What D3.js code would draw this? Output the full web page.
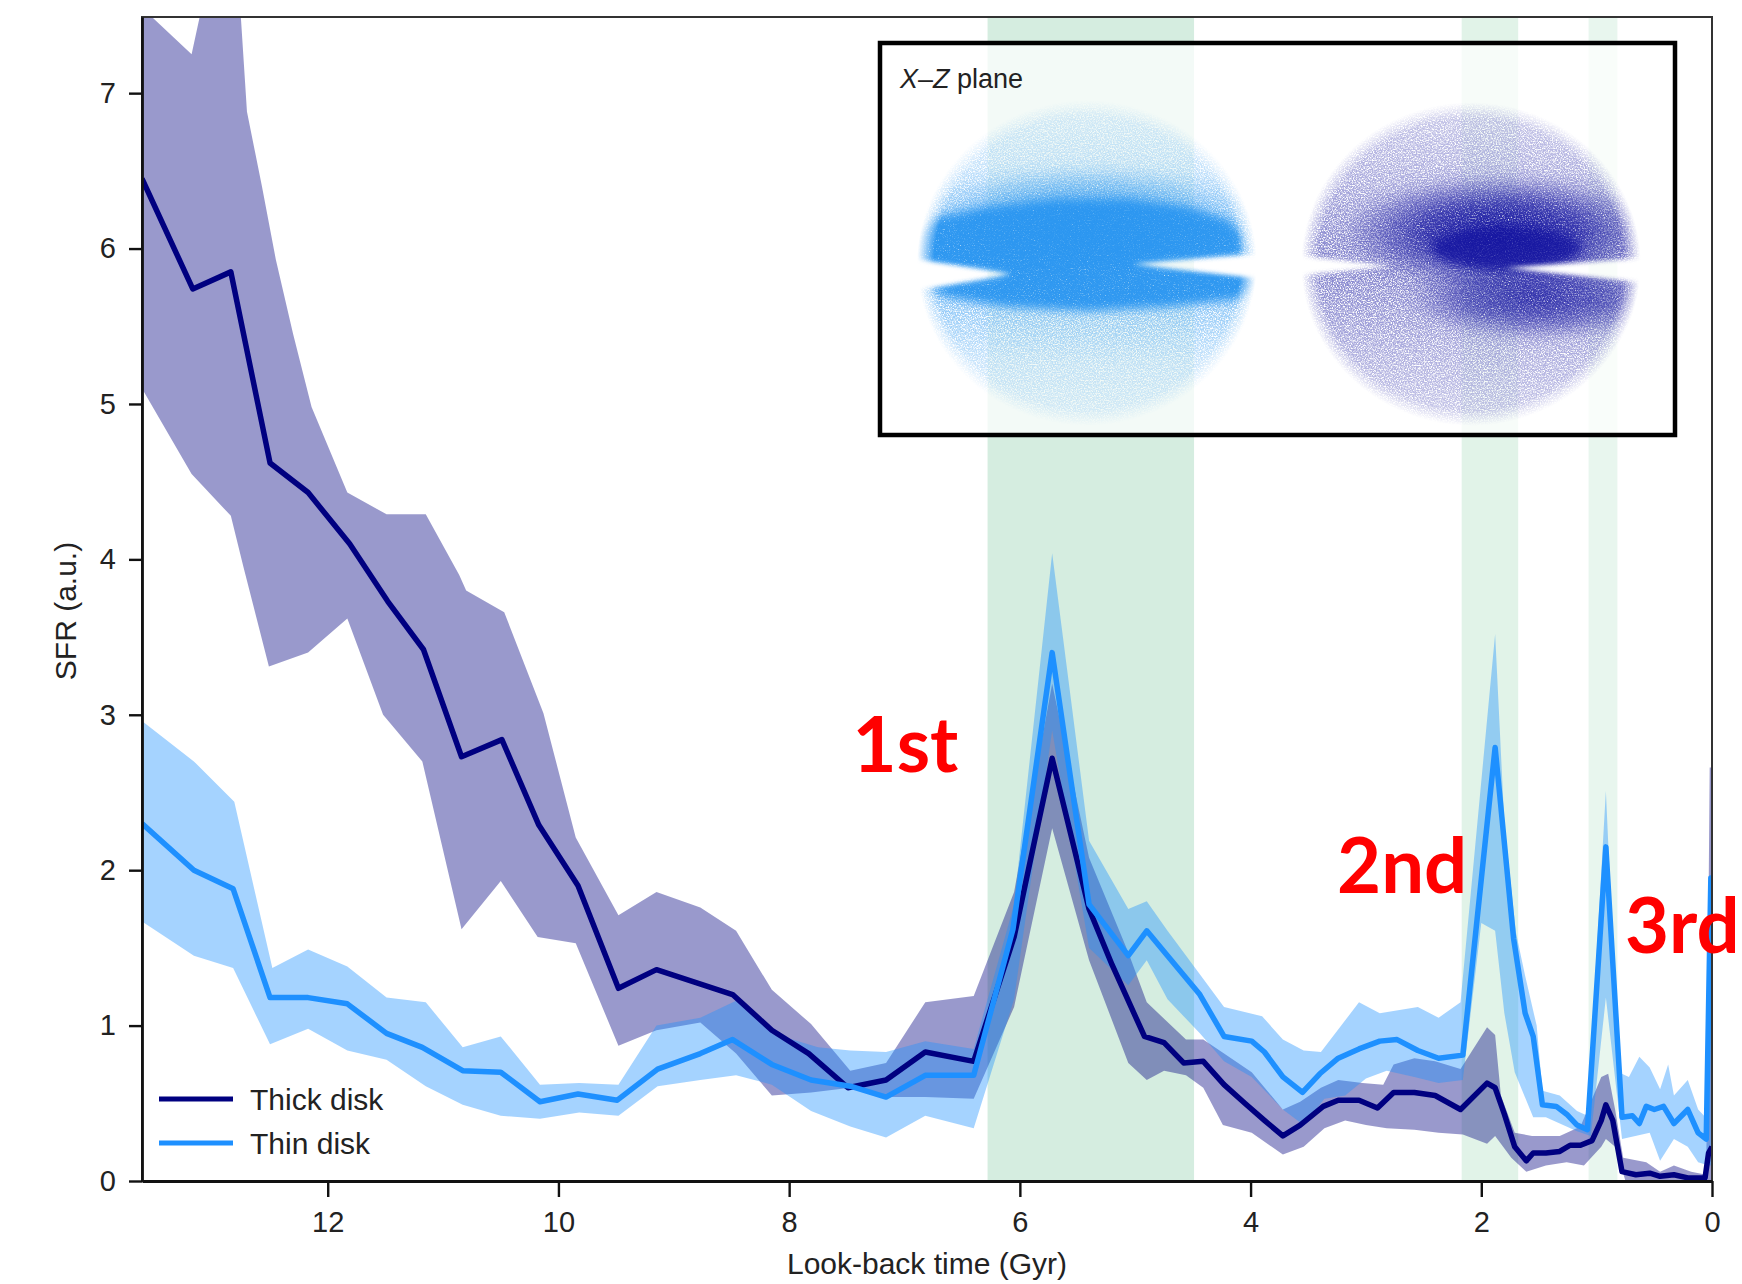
<!DOCTYPE html>
<html>
<head>
<meta charset="utf-8">
<script src="https://cdn.jsdelivr.net/npm/d3@7"></script>
<style>
  html, body { margin: 0; padding: 0; background: #fff; }
  svg { display: block; }
</style>
</head>
<body>
<div id="chart"></div>
<script>
// [look-back time (Gyr), SFR (a.u.)]
const thickMean = [[13.61,6.45],[13.17,5.74],[12.84,5.85],[12.50,4.62],[12.17,4.43],[11.81,4.10],[11.48,3.73],[11.17,3.42],[10.84,2.73],[10.49,2.84],[10.17,2.29],[9.83,1.90],[9.48,1.24],[9.15,1.36],[8.82,1.28],[8.49,1.20],[8.15,0.97],[7.83,0.82],[7.49,0.60],[7.16,0.65],[6.82,0.83],[6.40,0.77],[6.05,1.57],[5.72,2.72],[5.40,1.75],[5.20,1.39],[4.92,0.93],[4.75,0.89],[4.58,0.76],[4.41,0.77],[4.23,0.62],[4.05,0.50],[3.88,0.39],[3.72,0.29],[3.57,0.36],[3.37,0.48],[3.24,0.52],[3.06,0.52],[2.90,0.47],[2.76,0.57],[2.58,0.57],[2.40,0.55],[2.18,0.46],[1.95,0.63],[1.88,0.60],[1.80,0.43],[1.71,0.22],[1.61,0.13],[1.55,0.18],[1.44,0.18],[1.32,0.19],[1.23,0.23],[1.14,0.23],[1.04,0.26],[0.96,0.39],[0.92,0.49],[0.86,0.39],[0.78,0.06],[0.66,0.04],[0.54,0.05],[0.45,0.03],[0.33,0.04],[0.21,0.02],[0.06,0.02],[0.03,0.18],[0.00,0.22]];
const thickHi = [[13.61,7.55],[13.18,7.25],[13.02,7.8],[12.78,7.8],[12.70,6.88],[12.57,6.40],[12.45,5.93],[12.30,5.45],[12.14,4.98],[11.83,4.43],[11.49,4.29],[11.15,4.29],[10.86,3.90],[10.80,3.80],[10.47,3.66],[10.13,3.01],[9.85,2.21],[9.48,1.71],[9.15,1.86],[8.77,1.76],[8.46,1.61],[8.15,1.23],[7.81,1.01],[7.47,0.71],[7.16,0.76],[6.82,1.15],[6.40,1.19],[6.05,1.86],[5.72,3.20],[5.40,2.08],[5.06,1.47],[4.90,1.15],[4.56,0.91],[4.41,0.91],[4.23,0.82],[3.99,0.70],[3.72,0.46],[3.57,0.51],[3.39,0.60],[3.24,0.65],[3.03,0.63],[2.85,0.62],[2.76,0.75],[2.58,0.79],[2.40,0.77],[2.18,0.72],[1.95,0.99],[1.88,0.94],[1.83,0.55],[1.71,0.31],[1.56,0.29],[1.32,0.29],[1.14,0.35],[0.96,0.67],[0.90,0.69],[0.84,0.46],[0.77,0.15],[0.57,0.12],[0.45,0.06],[0.33,0.10],[0.18,0.06],[0.05,0.04],[0.02,2.66],[0.00,2.66]];
const thickLo = [[13.61,5.10],[13.18,4.55],[12.84,4.28],[12.73,3.95],[12.51,3.31],[12.17,3.40],[11.83,3.62],[11.52,3.00],[11.18,2.70],[10.84,1.62],[10.50,1.93],[10.18,1.57],[9.85,1.53],[9.48,0.87],[9.15,0.97],[8.77,1.02],[8.46,0.82],[8.15,0.55],[7.81,0.57],[7.47,0.60],[7.16,0.54],[6.82,0.54],[6.40,0.53],[6.05,1.12],[5.72,2.27],[5.40,1.42],[5.06,0.76],[4.90,0.65],[4.75,0.71],[4.56,0.68],[4.41,0.60],[4.24,0.36],[3.99,0.31],[3.72,0.17],[3.54,0.22],[3.36,0.34],[3.18,0.39],[3.00,0.36],[2.82,0.34],[2.58,0.33],[2.37,0.31],[2.16,0.30],[1.95,0.24],[1.88,0.29],[1.74,0.15],[1.61,0.06],[1.44,0.10],[1.26,0.12],[1.11,0.10],[0.96,0.22],[0.92,0.27],[0.84,0.22],[0.75,0.00],[0.00,0.00]];

const thinMean = [[13.61,2.30],[13.16,2.00],[12.82,1.88],[12.50,1.18],[12.17,1.18],[11.83,1.14],[11.49,0.95],[11.18,0.86],[10.83,0.71],[10.50,0.70],[10.16,0.51],[9.83,0.56],[9.49,0.52],[9.14,0.72],[8.77,0.82],[8.49,0.91],[8.15,0.75],[7.81,0.65],[7.47,0.61],[7.16,0.54],[6.82,0.68],[6.40,0.68],[6.06,1.62],[5.72,3.40],[5.40,1.78],[5.06,1.45],[4.90,1.61],[4.72,1.45],[4.44,1.20],[4.23,0.93],[3.99,0.90],[3.88,0.83],[3.72,0.67],[3.55,0.57],[3.40,0.69],[3.24,0.79],[3.06,0.85],[2.88,0.90],[2.73,0.91],[2.55,0.84],[2.37,0.79],[2.16,0.81],[1.88,2.79],[1.72,1.56],[1.62,1.08],[1.55,0.93],[1.47,0.49],[1.35,0.48],[1.26,0.43],[1.17,0.36],[1.08,0.33],[0.92,2.15],[0.78,0.41],[0.69,0.42],[0.63,0.37],[0.57,0.48],[0.50,0.46],[0.42,0.48],[0.33,0.37],[0.21,0.46],[0.12,0.31],[0.05,0.27],[0.01,1.95],[0.00,1.95]];
const thinHi = [[13.61,2.96],[13.16,2.70],[12.81,2.44],[12.48,1.37],[12.17,1.49],[11.83,1.38],[11.49,1.18],[11.15,1.15],[10.83,0.86],[10.50,0.93],[10.16,0.62],[9.82,0.63],[9.48,0.62],[9.15,1.00],[8.77,1.05],[8.46,1.16],[8.15,0.95],[7.75,0.86],[7.47,0.84],[7.16,0.83],[6.82,0.90],[6.40,0.85],[6.05,1.78],[5.72,4.04],[5.40,2.19],[5.06,1.75],[4.90,1.80],[4.72,1.61],[4.44,1.33],[4.23,1.12],[3.90,1.06],[3.72,0.91],[3.54,0.84],[3.39,0.83],[3.06,1.15],[2.88,1.08],[2.55,1.12],[2.37,1.05],[2.18,1.15],[1.88,3.52],[1.80,2.30],[1.70,1.60],[1.62,1.32],[1.52,1.00],[1.47,0.58],[1.32,0.55],[1.17,0.45],[1.08,0.42],[0.92,2.51],[0.81,0.70],[0.72,0.67],[0.63,0.80],[0.54,0.73],[0.45,0.59],[0.38,0.75],[0.33,0.55],[0.21,0.65],[0.12,0.46],[0.03,0.39],[0.01,2.00],[0.00,2.00]];
const thinLo = [[13.61,1.67],[13.16,1.45],[12.82,1.37],[12.50,0.88],[12.17,0.98],[11.83,0.84],[11.49,0.78],[11.15,0.61],[10.83,0.49],[10.50,0.42],[10.16,0.40],[9.82,0.44],[9.48,0.42],[9.14,0.61],[8.77,0.65],[8.46,0.68],[8.15,0.62],[7.81,0.45],[7.47,0.35],[7.16,0.28],[6.82,0.42],[6.40,0.34],[6.05,1.17],[5.72,2.90],[5.40,1.50],[5.06,1.26],[4.90,1.42],[4.72,1.17],[4.44,0.95],[4.23,0.77],[3.99,0.67],[3.72,0.46],[3.54,0.36],[3.36,0.53],[3.18,0.55],[3.00,0.66],[2.82,0.71],[2.58,0.67],[2.37,0.63],[2.16,0.65],[2.00,1.66],[1.88,1.61],[1.80,1.08],[1.71,0.70],[1.55,0.41],[1.44,0.41],[1.17,0.32],[1.05,0.29],[0.92,1.18],[0.78,0.27],[0.54,0.31],[0.45,0.13],[0.33,0.27],[0.21,0.22],[0.12,0.12],[0.03,0.10],[0.00,0.10]];

// starburst windows (Gyr) and their labels
const burstBands = [[6.28, 4.49], [2.17, 1.68], [1.07, 0.82]];
const burstLabels = ["1st", "2nd", "3rd"];

const xTicks = [12, 10, 8, 6, 4, 2, 0];
const yTicks = [0, 1, 2, 3, 4, 5, 6, 7];
const seriesNames = ["Thick disk", "Thin disk"];

const W = 1742, H = 1284;
const plot = {left: 142, right: 1712, top: 17, bottom: 1181};
const font = '"Liberation Sans", Arial, Helvetica, sans-serif';
const navy = "#000080", dodger = "#1e90ff";
const bandGreens = ["#d5ede0", "#e1f3e8", "#e8f6ee"];

const svg = d3.select("#chart").append("svg")
  .attr("width", W).attr("height", H)
  .attr("font-family", font);

const x = d3.scaleLinear().domain([13.61, 0]).range([plot.left, plot.right]);
const y = d3.scaleLinear().domain([0, 7.49]).range([plot.bottom, plot.top]);

const defs = svg.append("defs");
defs.append("clipPath").attr("id", "plotClip")
  .append("rect")
  .attr("x", plot.left).attr("y", plot.top)
  .attr("width", plot.right - plot.left).attr("height", plot.bottom - plot.top);

const body = svg.append("g").attr("clip-path", "url(#plotClip)");

// green windows
body.selectAll(".burst").data(burstBands).join("rect")
  .attr("class", "burst")
  .attr("x", d => x(d[0]))
  .attr("width", d => x(d[1]) - x(d[0]))
  .attr("y", plot.top).attr("height", plot.bottom - plot.top)
  .attr("fill", (d, i) => bandGreens[i]);

const line = d3.line().x(d => x(d[0])).y(d => y(d[1]));
const bandPath = (hi, lo) => line(hi.concat(lo.slice().reverse())) + "Z";

body.append("path").attr("d", bandPath(thickHi, thickLo))
  .attr("fill", navy).attr("fill-opacity", 0.4);
body.append("path").attr("d", bandPath(thinHi, thinLo))
  .attr("fill", dodger).attr("fill-opacity", 0.4);

body.append("path").datum(thickMean).attr("d", line)
  .attr("fill", "none").attr("stroke", navy).attr("stroke-width", 5.5)
  .attr("stroke-linejoin", "round");
body.append("path").datum(thinMean).attr("d", line)
  .attr("fill", "none").attr("stroke", dodger).attr("stroke-width", 5.5)
  .attr("stroke-linejoin", "round");

// ---- inset: X-Z particle maps ----
function grainFilter(id, slope, offset, blur, freq) {
  const f = defs.append("filter").attr("id", id)
    .attr("x", "-10%").attr("y", "-10%").attr("width", "120%").attr("height", "120%")
    .attr("color-interpolation-filters", "sRGB");
  let src = "SourceGraphic";
  if (blur) {
    f.append("feGaussianBlur").attr("in", "SourceGraphic").attr("stdDeviation", blur).attr("result", "b");
    src = "b";
  }
  f.append("feTurbulence").attr("type", "fractalNoise").attr("baseFrequency", freq || 0.8)
    .attr("numOctaves", 2).attr("seed", 7).attr("result", "n");
  f.append("feColorMatrix").attr("in", "n").attr("type", "matrix")
    .attr("values", `0 0 0 0 0  0 0 0 0 0  0 0 0 0 0  ${slope} 0 0 0 ${offset}`)
    .attr("result", "m");
  f.append("feComposite").attr("in", src).attr("in2", "m").attr("operator", "in");
}
grainFilter("grainHalo", 3.2, -0.9, 1.5, 0.75);
grainFilter("grainSlab", 2.6, -0.1, 5, 0.8);
grainFilter("grainSoft", 3.0, -0.5, 7, 0.7);
defs.append("filter").attr("id", "blurMask").attr("x", "-20%").attr("y", "-20%").attr("width", "140%").attr("height", "140%")
  .append("feGaussianBlur").attr("stdDeviation", 2);

function vGrad(id, color, stops) {
  const g = defs.append("linearGradient").attr("id", id)
    .attr("x1", 0).attr("y1", 0).attr("x2", 0).attr("y2", 1);
  stops.forEach(([o, a]) => g.append("stop").attr("offset", o)
    .attr("stop-color", color).attr("stop-opacity", a));
}
function rGrad(id, color, stops) {
  const g = defs.append("radialGradient").attr("id", id);
  stops.forEach(([o, a]) => g.append("stop").attr("offset", o)
    .attr("stop-color", color).attr("stop-opacity", a));
}

const thinCol = "#2a96f0", thickCol = "#1414a0";
vGrad("haloThin", thinCol, [[0, 0.14], [0.2, 0.26], [0.36, 0.5], [0.5, 0.7], [0.64, 0.5], [0.8, 0.26], [1, 0.14]]);
vGrad("haloThick", thickCol, [[0, 0.22], [0.25, 0.36], [0.45, 0.5], [0.55, 0.5], [0.75, 0.36], [1, 0.22]]);
rGrad("thickUpper", thickCol, [[0, 0.95], [0.5, 0.75], [1, 0]]);
rGrad("thickLower", thickCol, [[0, 0.8], [0.55, 0.55], [1, 0]]);
rGrad("thinUpper", thinCol, [[0, 0.7], [0.6, 0.5], [1, 0]]);
// feathered rim of each particle sphere
const rim = defs.append("radialGradient").attr("id", "rimFade");
[[0, "#fff"], [0.9, "#fff"], [1, "#000"]].forEach(([o, c]) =>
  rim.append("stop").attr("offset", o).attr("stop-color", c));

function notchMask(id, rx, ry, notches) {
  const m = defs.append("mask").attr("id", id)
    .attr("maskUnits", "userSpaceOnUse").attr("maskContentUnits", "userSpaceOnUse")
    .attr("x", -220).attr("y", -220).attr("width", 440).attr("height", 440);
  m.append("rect").attr("x", -220).attr("y", -220).attr("width", 440).attr("height", 440).attr("fill", "#000");
  m.append("ellipse").attr("rx", rx).attr("ry", ry).attr("fill", "url(#rimFade)");
  const n = m.append("g").attr("filter", "url(#blurMask)");
  notches.forEach(p => n.append("polygon").attr("points", p.map(d => d.join(",")).join(" ")).attr("fill", "#000"));
}
notchMask("maskThin", 170, 163, [[[-185, -6], [-76, 11], [-185, 30]], [[185, -10], [46, 1], [185, 17]]]);
notchMask("maskThick", 170, 162, [[[-185, -10], [-80, 2], [-185, 13]], [[185, -7], [34, 4], [185, 20]]]);

const inset = {x: 880, y: 43, w: 795, h: 392};
svg.append("rect")
  .attr("x", inset.x).attr("y", inset.y).attr("width", inset.w).attr("height", inset.h)
  .attr("fill", "#fff").attr("fill-opacity", 0.72)
  .attr("stroke", "#000").attr("stroke-width", 4.5);

const insetTitle = svg.append("text")
  .attr("x", inset.x + 20).attr("y", inset.y + 45)
  .attr("font-size", 27).attr("fill", "#222");
insetTitle.append("tspan").attr("font-style", "italic").text("X");
insetTitle.append("tspan").text("–");
insetTitle.append("tspan").attr("font-style", "italic").text("Z");
insetTitle.append("tspan").text(" plane");

// thin disk cloud
const cThin = svg.append("g").attr("transform", "translate(1087,263)")
  .append("g").attr("mask", "url(#maskThin)");
cThin.append("ellipse").attr("rx", 170).attr("ry", 163)
  .attr("fill", "url(#haloThin)").attr("filter", "url(#grainHalo)");
cThin.append("ellipse").attr("cy", -42).attr("rx", 165).attr("ry", 55)
  .attr("fill", "url(#thinUpper)").attr("filter", "url(#grainSoft)");
const slabThin = [[-172,-28],[-150,-46],[-100,-56],[-30,-64],[40,-64],[100,-56],[140,-44],[156,-28],[154,-6],[50,2],[168,8],[172,22],[150,36],[80,44],[0,48],[-80,44],[-140,34],[-162,22],[-80,12],[-172,2]];
cThin.append("path").attr("d", d3.line()(slabThin) + "Z")
  .attr("fill", thinCol).attr("fill-opacity", 0.95).attr("filter", "url(#grainSlab)");

// thick disk cloud
const cThick = svg.append("g").attr("transform", "translate(1471,264)")
  .append("g").attr("mask", "url(#maskThick)");
cThick.append("ellipse").attr("rx", 170).attr("ry", 162)
  .attr("fill", "url(#haloThick)").attr("filter", "url(#grainHalo)");
cThick.append("ellipse").attr("cx", 30).attr("cy", -32).attr("rx", 160).attr("ry", 58)
  .attr("fill", "url(#thickUpper)").attr("filter", "url(#grainSoft)");
cThick.append("ellipse").attr("cx", 65).attr("cy", 34).attr("rx", 130).attr("ry", 42)
  .attr("fill", "url(#thickLower)").attr("filter", "url(#grainSoft)");
cThick.append("ellipse").attr("cx", 35).attr("cy", -16).attr("rx", 75).attr("ry", 22)
  .attr("fill", thickCol).attr("fill-opacity", 0.8).attr("filter", "url(#grainSlab)");

// frame (top/right)
svg.append("rect")
  .attr("x", plot.left).attr("y", plot.top)
  .attr("width", plot.right - plot.left).attr("height", plot.bottom - plot.top)
  .attr("fill", "none").attr("stroke", "#333").attr("stroke-width", 2);

// axes
const styleAxis = g => {
  g.attr("font-family", font);
  g.select(".domain").attr("stroke", "#111").attr("stroke-width", 2.8);
  g.selectAll(".tick line").attr("stroke", "#111").attr("stroke-width", 2.4);
  g.selectAll(".tick text").attr("font-size", 29).attr("fill", "#222");
};
svg.append("g").attr("transform", `translate(${plot.left},0)`)
  .call(d3.axisLeft(y).tickValues(yTicks).tickSize(13).tickPadding(13).tickSizeOuter(0))
  .call(styleAxis);
svg.append("g").attr("transform", `translate(0,${plot.bottom})`)
  .call(d3.axisBottom(x).tickValues(xTicks).tickSize(16).tickPadding(14).tickSizeOuter(0))
  .call(styleAxis);

svg.append("text")
  .attr("transform", `translate(76,${(plot.top + plot.bottom) / 2 + 12}) rotate(-90)`)
  .attr("text-anchor", "middle").attr("font-size", 30).attr("fill", "#222")
  .text("SFR (a.u.)");
svg.append("text")
  .attr("x", (plot.left + plot.right) / 2).attr("y", 1274)
  .attr("text-anchor", "middle").attr("font-size", 30).attr("fill", "#222")
  .text("Look-back time (Gyr)");

// legend
const legend = svg.append("g").attr("transform", "translate(159,1099)");
seriesNames.forEach((name, i) => {
  const g = legend.append("g").attr("transform", `translate(0,${i * 44})`);
  g.append("line").attr("x1", 0).attr("x2", 74)
    .attr("stroke", i === 0 ? navy : dodger).attr("stroke-width", 5);
  g.append("text").attr("x", 91).attr("dy", "0.36em")
    .attr("font-size", 30).attr("fill", "#222").text(name);
});

// red burst labels, anchored in data space
const labelAt = [[7.45, 2.63], [3.25, 1.85], [0.754, 1.47]];
svg.selectAll(".burst-label").data(burstLabels).join("text")
  .attr("class", "burst-label")
  .attr("x", (d, i) => x(labelAt[i][0]))
  .attr("y", (d, i) => y(labelAt[i][1]))
  .attr("font-family", "Lato, 'Open Sans', sans-serif")
  .attr("font-weight", 700).attr("font-size", 76)
  .attr("fill", "#ff0000")
  .text(d => d);
</script>
</body>
</html>
